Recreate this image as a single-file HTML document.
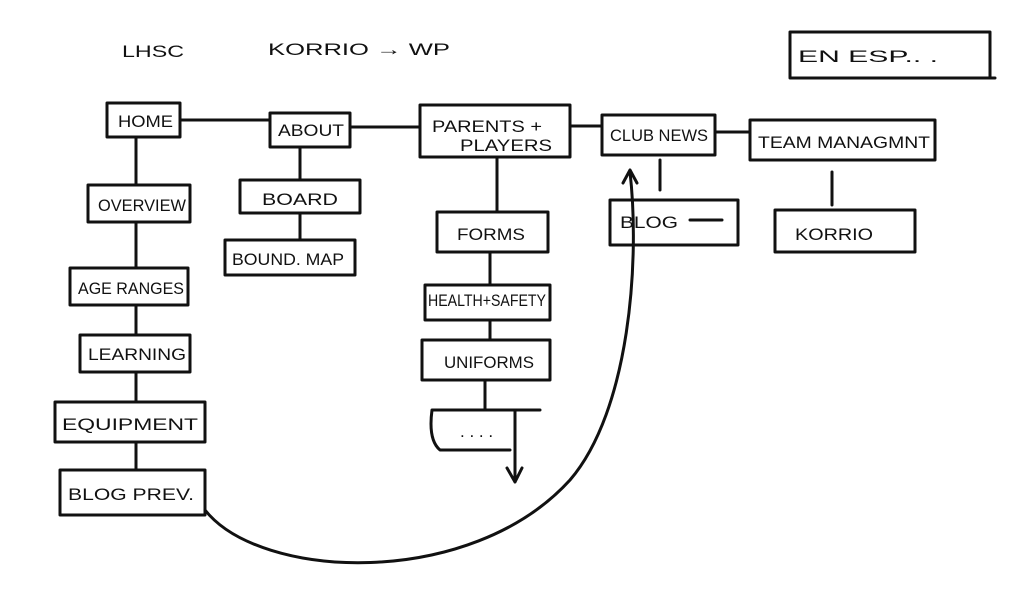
<!DOCTYPE html>
<html><head><meta charset="utf-8"><style>
html,body{margin:0;padding:0;background:#fff;}
svg{display:block}
text{font-family:"Liberation Sans",sans-serif;fill:#111;font-size:17px;}
</style></head><body>
<svg width="1024" height="592" viewBox="0 0 1024 592" xmlns="http://www.w3.org/2000/svg">
<g fill="none" stroke="#111" stroke-width="3" stroke-linecap="round" stroke-linejoin="round">
<rect x="107" y="103" width="73" height="34"/>
<rect x="270" y="113" width="80" height="34"/>
<rect x="420" y="105" width="150" height="52"/>
<rect x="602" y="115" width="113" height="40"/>
<rect x="750" y="120" width="185" height="40"/>
<rect x="88" y="185" width="102" height="37"/>
<rect x="240" y="180" width="120" height="33"/>
<rect x="225" y="240" width="130" height="35"/>
<rect x="437" y="212" width="111" height="40"/>
<rect x="425" y="285" width="125" height="35"/>
<rect x="422" y="340" width="128" height="40"/>
<path d="M432 410 H540 M432 410 Q428 440 440 450 H510"/>
<rect x="610" y="200" width="128" height="45"/>
<rect x="775" y="210" width="140" height="42"/>
<rect x="70" y="268" width="118" height="37"/>
<rect x="80" y="335" width="110" height="37"/>
<rect x="55" y="402" width="150" height="40"/>
<rect x="60" y="470" width="145" height="45"/>
<path d="M790 32 H990 V78 M790 32 V78 H995"/>
<path d="M180 120 H270 M350 127 H420 M570 126 H602 M715 132 H750"/>
<path d="M136 137 V185 M136 222 V268 M136 305 V335 M136 372 V402 M136 442 V470"/>
<path d="M300 147 V180 M300 213 V240"/>
<path d="M497 157 V212 M490 252 V285 M490 320 V340 M485 380 V410"/>
<path d="M515 410 V482 M507 468 L515 482 L522 468"/>
<path d="M660 160 V190 M832 172 V205"/>
<path d="M205 510 C 260 580 470 590 570 480 C 630 410 640 260 630 172 M623 183 L630 170 L637 183"/>
<path d="M690 220 H722"/>
</g>
<text x="122" y="57" font-size="26" textLength="62" lengthAdjust="spacingAndGlyphs">LHSC</text>
<text x="268" y="55" font-size="24" textLength="182" lengthAdjust="spacingAndGlyphs">KORRIO → WP</text>
<text x="798" y="62" font-size="20" textLength="140" lengthAdjust="spacingAndGlyphs">EN ESP.. .</text>
<text x="118" y="127" textLength="55" lengthAdjust="spacingAndGlyphs">HOME</text>
<text x="278" y="136" font-size="14" textLength="66" lengthAdjust="spacingAndGlyphs">ABOUT</text>
<text x="432" y="132" font-size="17" textLength="110" lengthAdjust="spacingAndGlyphs">PARENTS +</text>
<text x="460" y="151" font-size="16" textLength="92" lengthAdjust="spacingAndGlyphs">PLAYERS</text>
<text x="610" y="141" font-size="15" textLength="98" lengthAdjust="spacingAndGlyphs">CLUB NEWS</text>
<text x="758" y="148" font-size="23" textLength="172" lengthAdjust="spacingAndGlyphs">TEAM MANAGMNT</text>
<text x="98" y="211" font-size="15" textLength="88" lengthAdjust="spacingAndGlyphs">OVERVIEW</text>
<text x="262" y="205" font-size="22" textLength="76" lengthAdjust="spacingAndGlyphs">BOARD</text>
<text x="232" y="265" font-size="16" textLength="112" lengthAdjust="spacingAndGlyphs">BOUND. MAP</text>
<text x="457" y="240" font-size="18" textLength="68" lengthAdjust="spacingAndGlyphs">FORMS</text>
<text x="428" y="306" font-size="14" textLength="118" lengthAdjust="spacingAndGlyphs">HEALTH+SAFETY</text>
<text x="444" y="368" font-size="18" textLength="90" lengthAdjust="spacingAndGlyphs">UNIFORMS</text>
<text x="460" y="437" font-size="16">. . . .</text>
<text x="620" y="228" font-size="19" textLength="58" lengthAdjust="spacingAndGlyphs">BLOG</text>
<text x="795" y="240" font-size="18" textLength="78" lengthAdjust="spacingAndGlyphs">KORRIO</text>
<text x="78" y="294" font-size="15" textLength="106" lengthAdjust="spacingAndGlyphs">AGE RANGES</text>
<text x="88" y="360" font-size="14" textLength="98" lengthAdjust="spacingAndGlyphs">LEARNING</text>
<text x="62" y="430" font-size="18" textLength="136" lengthAdjust="spacingAndGlyphs">EQUIPMENT</text>
<text x="68" y="500" font-size="18" textLength="126" lengthAdjust="spacingAndGlyphs">BLOG PREV.</text>
</svg>
</body></html>
